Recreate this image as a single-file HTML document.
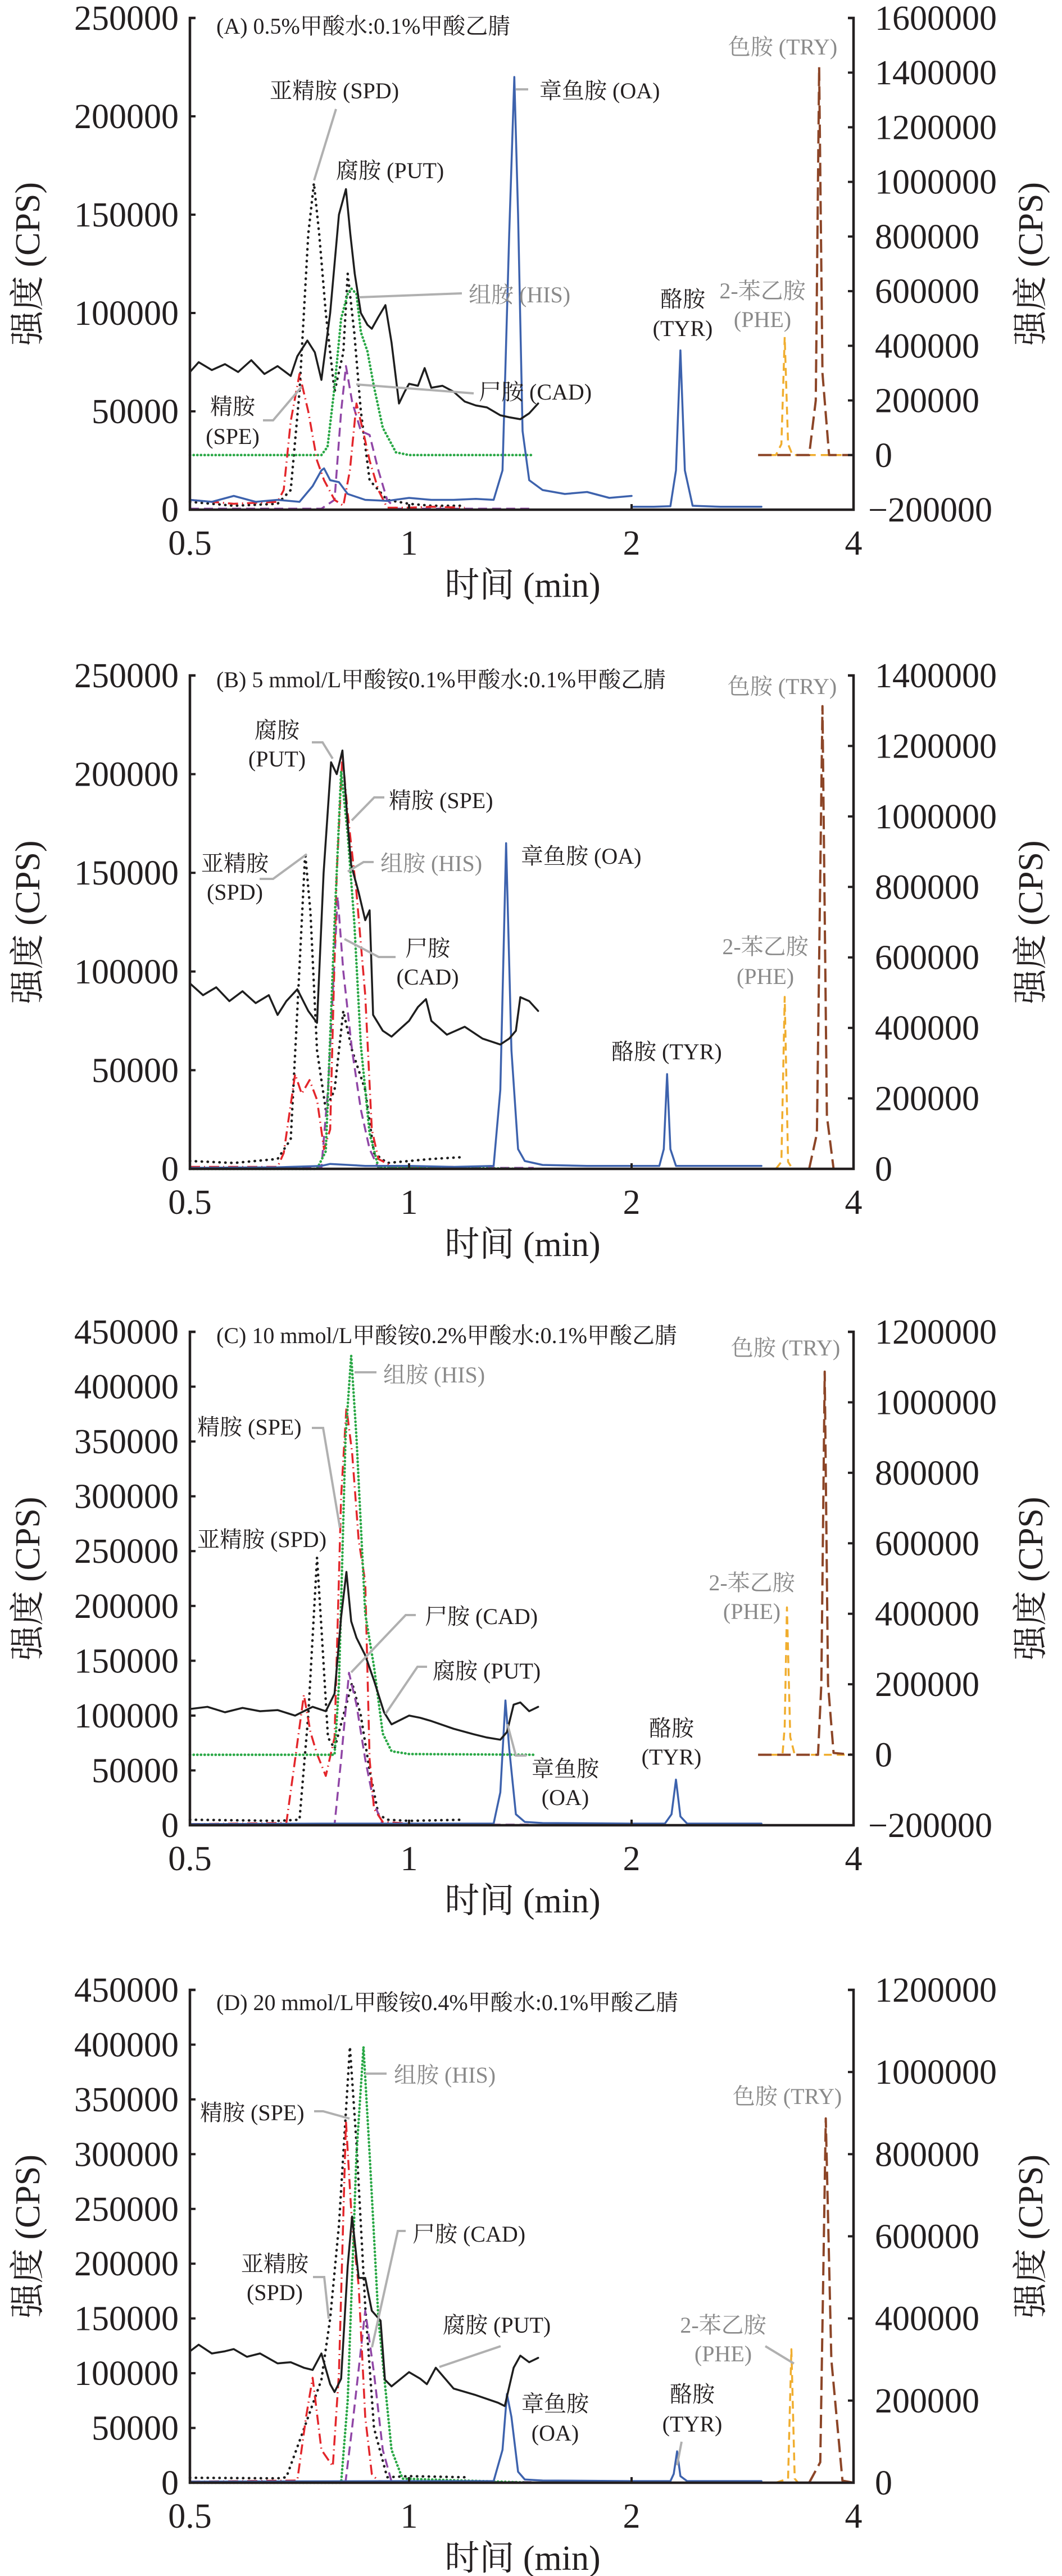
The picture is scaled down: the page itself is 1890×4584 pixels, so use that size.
<!DOCTYPE html>
<html><head><meta charset="utf-8"><style>
html,body{margin:0;padding:0;background:#fff;}
svg{display:block;}
.tk{font-family:"Liberation Serif","Noto Serif CJK SC",serif;font-size:62px;fill:#231f20;}
.ax{font-family:"Liberation Serif","Noto Serif CJK SC",serif;font-size:62px;fill:#231f20;}
.lb{font-family:"Liberation Serif","Noto Serif CJK SC",serif;font-size:40px;fill:#231f20;}
.lg{font-family:"Liberation Serif","Noto Serif CJK SC",serif;font-size:40px;fill:#8a8a8a;}
.ld{stroke:#b0b0b0;stroke-width:4;fill:none;}
</style></head><body>
<svg id="chart" width="1890" height="4584" viewBox="0 0 1890 4584" xmlns="http://www.w3.org/2000/svg">
<g id="labels">
<!-- Panel A -->
<text class="lb" x="385" y="60">(A) 0.5%甲酸水:0.1%甲酸乙腈</text>
<text class="lb" x="480" y="175">亚精胺 (SPD)</text>
<polyline class="ld" points="598,194 559,321"/>
<text class="lb" x="598" y="317">腐胺 (PUT)</text>
<text class="lb" x="960" y="175">章鱼胺 (OA)</text>
<polyline class="ld" points="918,159 940,159"/>
<text class="lg" x="834" y="538">组胺 (HIS)</text>
<polyline class="ld" points="639,529 822,522"/>
<text class="lb" x="852" y="711">尸胺 (CAD)</text>
<polyline class="ld" points="634,684 843,700"/>
<text class="lb" x="414" y="737" text-anchor="middle">精胺</text>
<text class="lb" x="414" y="790" text-anchor="middle">(SPE)</text>
<polyline class="ld" points="468,748 486,748 537,688"/>
<text class="lb" x="1215" y="546" text-anchor="middle">酪胺</text>
<text class="lb" x="1215" y="598" text-anchor="middle">(TYR)</text>
<text class="lg" x="1357" y="531" text-anchor="middle">2-苯乙胺</text>
<text class="lg" x="1357" y="582" text-anchor="middle">(PHE)</text>
<text class="lg" x="1393" y="97" text-anchor="middle">色胺 (TRY)</text>
<!-- Panel B -->
<text class="lb" x="385" y="1223">(B) 5 mmol/L甲酸铵0.1%甲酸水:0.1%甲酸乙腈</text>
<text class="lg" x="1392" y="1235" text-anchor="middle">色胺 (TRY)</text>
<text class="lb" x="493" y="1313" text-anchor="middle">腐胺</text>
<text class="lb" x="493" y="1364" text-anchor="middle">(PUT)</text>
<polyline class="ld" points="555,1321 574,1321 592,1350"/>
<text class="lb" x="692" y="1438">精胺 (SPE)</text>
<polyline class="ld" points="684,1419 666,1419 626,1460"/>
<text class="lb" x="418" y="1550" text-anchor="middle">亚精胺</text>
<text class="lb" x="418" y="1601" text-anchor="middle">(SPD)</text>
<polyline class="ld" points="462,1564 486,1564 546,1520"/>
<text class="lg" x="677" y="1550">组胺 (HIS)</text>
<polyline class="ld" points="665,1534 647,1534 619,1551"/>
<text class="lb" x="927" y="1537">章鱼胺 (OA)</text>
<text class="lb" x="761" y="1701" text-anchor="middle">尸胺</text>
<text class="lb" x="761" y="1752" text-anchor="middle">(CAD)</text>
<polyline class="ld" points="704,1703 674,1703 613,1671"/>
<text class="lg" x="1362" y="1698" text-anchor="middle">2-苯乙胺</text>
<text class="lg" x="1362" y="1751" text-anchor="middle">(PHE)</text>
<text class="lb" x="1088" y="1885">酪胺 (TYR)</text>
<!-- Panel C -->
<text class="lb" x="385" y="2390">(C) 10 mmol/L甲酸铵0.2%甲酸水:0.1%甲酸乙腈</text>
<text class="lg" x="1398" y="2412" text-anchor="middle">色胺 (TRY)</text>
<text class="lg" x="682" y="2460">组胺 (HIS)</text>
<polyline class="ld" points="631,2442 670,2442"/>
<text class="lb" x="351" y="2553">精胺 (SPE)</text>
<polyline class="ld" points="555,2541 575,2541 605,2719"/>
<text class="lb" x="351" y="2753">亚精胺 (SPD)</text>
<text class="lb" x="756" y="2890">尸胺 (CAD)</text>
<polyline class="ld" points="740,2874 722,2874 625,2976"/>
<text class="lb" x="770" y="2987">腐胺 (PUT)</text>
<polyline class="ld" points="760,2966 743,2966 686,3050"/>
<text class="lb" x="1006" y="3161" text-anchor="middle">章鱼胺</text>
<text class="lb" x="1006" y="3212" text-anchor="middle">(OA)</text>
<polyline class="ld" points="903,3068 918,3124 937,3124"/>
<text class="lb" x="1195" y="3089" text-anchor="middle">酪胺</text>
<text class="lb" x="1195" y="3140" text-anchor="middle">(TYR)</text>
<text class="lg" x="1338" y="2830" text-anchor="middle">2-苯乙胺</text>
<text class="lg" x="1338" y="2881" text-anchor="middle">(PHE)</text>
<!-- Panel D -->
<text class="lb" x="385" y="3577">(D) 20 mmol/L甲酸铵0.4%甲酸水:0.1%甲酸乙腈</text>
<text class="lg" x="701" y="3706">组胺 (HIS)</text>
<polyline class="ld" points="650,3690 688,3690"/>
<text class="lg" x="1401" y="3744" text-anchor="middle">色胺 (TRY)</text>
<text class="lb" x="356" y="3773">精胺 (SPE)</text>
<polyline class="ld" points="559,3757 575,3757 622,3770"/>
<text class="lb" x="734" y="3989">尸胺 (CAD)</text>
<polyline class="ld" points="722,3970 708,3970 662,4177"/>
<text class="lb" x="489" y="4042" text-anchor="middle">亚精胺</text>
<text class="lb" x="489" y="4093" text-anchor="middle">(SPD)</text>
<polyline class="ld" points="557,4052 577,4052 585,4126"/>
<text class="lb" x="788" y="4151">腐胺 (PUT)</text>
<polyline class="ld" points="891,4175 782,4212"/>
<text class="lb" x="988" y="4291" text-anchor="middle">章鱼胺</text>
<text class="lb" x="988" y="4343" text-anchor="middle">(OA)</text>
<text class="lb" x="1232" y="4274" text-anchor="middle">酪胺</text>
<text class="lb" x="1232" y="4327" text-anchor="middle">(TYR)</text>
<polyline class="ld" points="1213,4345 1205,4387"/>
<text class="lg" x="1287" y="4151" text-anchor="middle">2-苯乙胺</text>
<text class="lg" x="1287" y="4202" text-anchor="middle">(PHE)</text>
<polyline class="ld" points="1362,4175 1413,4206"/>
</g>
</svg>
<script>
// ---------- Panel A data ----------
const A_PUT_t=[0.5,0.52,0.55,0.58,0.61,0.64,0.67,0.7,0.73,0.745,0.768,0.785,0.80,0.82,0.84,0.856,0.866,0.876,0.89,0.905,0.915,0.93,0.946,0.96,0.977,0.99,1.0,1.04,1.07,1.1,1.15,1.2,1.25,1.3,1.35,1.41,1.45,1.5,1.54,1.58];
const A_PUT_v=[70000,75000,71000,74000,70000,76000,69000,73000,68000,78000,86000,80000,66000,100000,150000,163000,140000,120000,100000,94000,92000,98000,104000,85000,54000,60000,64000,63000,72000,62000,63000,60000,55000,53000,52000,48000,47000,46000,49000,54000];
const A_SPD_t=[0.5,0.6,0.7,0.73,0.75,0.77,0.783,0.795,0.81,0.83,0.85,0.86,0.875,0.89,0.91,0.95,1.0,1.1,1.25];
const A_SPD_v=[4000,2000,3000,10000,60000,140000,166000,140000,100000,60000,80000,120000,90000,50000,15000,5000,3000,2000,2000];
const A_HIS_t=[0.5,0.8,0.814,0.83,0.845,0.86,0.868,0.88,0.89,0.905,0.92,0.94,0.97,1.0,1.56];
const A_HIS_v=[0,0,30000,250000,500000,590000,610000,590000,450000,380000,250000,100000,10000,0,0];
const A_SPE_t=[0.5,0.6,0.7,0.714,0.73,0.75,0.77,0.79,0.806,0.83,0.85,0.865,0.88,0.895,0.91,0.93,0.95,1.0,1.1,1.25];
const A_SPE_v=[5000,3000,4000,10000,45000,69000,50000,25000,15000,5000,2000,20000,54000,40000,25000,10000,1000,1000,1500,1000];
const A_CAD_t=[0.5,0.8,0.83,0.845,0.856,0.87,0.89,0.91,0.93,0.95,0.97,1.56];
const A_CAD_v=[500,500,5000,50000,73000,55000,40000,38000,20000,5000,500,500];
const A_OA_t=[0.5,0.55,0.6,0.65,0.7,0.75,0.78,0.8,0.806,0.82,0.84,0.86,0.9,0.95,1.0,1.1,1.2,1.3,1.38,1.42,1.45,1.473,1.49,1.51,1.54,1.6,1.7,1.8,1.9,2.0];
const A_OA_v=[5000,4000,7000,4000,5000,4000,12000,20000,21000,15000,14000,8000,5000,4500,6000,5000,5000,5500,5000,20000,140000,220000,150000,40000,15000,10000,8000,9000,6000,7000];
const A_TYR_t=[2.0,2.2,2.35,2.4,2.44,2.48,2.55,2.8,3.17];
const A_TYR_v=[1500,1500,1800,20000,81000,20000,2000,1500,1500];
const A_PHE_t=[3.14,3.3,3.35,3.38,3.41,3.45,4.0];
const A_PHE_v=[0,0,40000,432000,40000,0,0];
const A_TRY_t=[3.14,3.6,3.66,3.69,3.72,3.78,4.0];
const A_TRY_v=[0,0,200000,1420000,300000,0,0];
// ---------- Panel B data ----------
const B_PUT_t=[0.5,0.53,0.56,0.59,0.62,0.65,0.68,0.70,0.72,0.745,0.77,0.79,0.805,0.822,0.835,0.848,0.86,0.868,0.885,0.9,0.91,0.918,0.94,0.96,1.0,1.04,1.076,1.1,1.17,1.25,1.33,1.41,1.45,1.48,1.50,1.54,1.58];
const B_PUT_v=[94000,88000,92000,85000,90000,84000,88000,78000,85000,91000,80000,74000,150000,206000,200000,212000,175000,154000,140000,126000,131000,78000,70000,67000,75000,82000,86000,75000,68000,72000,66000,63000,66000,70000,87000,85000,80000];
const B_SPD_t=[0.5,0.6,0.7,0.73,0.745,0.763,0.775,0.79,0.81,0.83,0.85,0.87,0.9,0.92,0.95,1.0,1.1,1.25];
const B_SPD_v=[4000,3000,5000,15000,80000,160000,130000,60000,30000,40000,80000,60000,40000,8000,3000,4000,5000,6000];
const B_SPE_t=[0.5,0.7,0.714,0.74,0.755,0.773,0.79,0.806,0.82,0.835,0.848,0.86,0.88,0.9,0.915,0.93,0.96,1.0,1.2];
const B_SPE_v=[1000,1000,8000,48000,38000,45000,35000,10000,20000,150000,210000,180000,140000,88000,20000,5000,1500,1000,1000];
const B_HIS_t=[0.5,0.79,0.81,0.83,0.845,0.86,0.875,0.89,0.91,0.93,1.56];
const B_HIS_v=[0,0,50000,700000,1128000,950000,700000,350000,100000,5000,0];
const B_CAD_t=[0.5,0.8,0.815,0.837,0.85,0.87,0.89,0.91,0.93,1.56];
const B_CAD_v=[500,500,40000,138000,100000,60000,30000,10000,500,500];
const B_OA_t=[0.5,0.7,0.8,0.82,0.9,1.0,1.2,1.38,1.41,1.436,1.46,1.49,1.52,1.6,1.8,2.0];
const B_OA_v=[500,800,1500,2500,1500,1500,1000,1500,40000,165000,60000,10000,4000,2000,1500,1500];
const B_TYR_t=[2.0,2.25,2.29,2.32,2.35,2.4,2.6,3.17];
const B_TYR_v=[1500,1500,10000,48000,10000,1500,1500,1500];
const B_PHE_t=[3.3,3.35,3.38,3.41,3.45];
const B_PHE_v=[0,20000,488000,20000,0];
const B_TRY_t=[3.6,3.67,3.72,3.76,3.82,4.0];
const B_TRY_v=[0,100000,1313000,150000,0,0];
// ---------- Panel C data ----------
const C_PUT_t=[0.5,0.54,0.58,0.62,0.66,0.7,0.74,0.78,0.81,0.83,0.845,0.857,0.868,0.88,0.9,0.92,0.943,0.96,1.0,1.05,1.1,1.2,1.29,1.35,1.41,1.44,1.47,1.5,1.54,1.58];
const C_PUT_v=[106000,108000,103000,107000,104000,105000,100000,108000,104000,120000,190000,231000,186000,171000,155000,132000,103000,92000,100000,98000,95000,88000,83000,80000,78000,85000,110000,112000,104000,108000];
const C_SPD_t=[0.5,0.7,0.75,0.77,0.79,0.80,0.815,0.83,0.85,0.87,0.89,0.91,0.93,0.95,1.0,1.25];
const C_SPD_v=[5000,4000,5000,100000,244000,180000,80000,70000,100000,130000,100000,50000,10000,5000,4000,5000];
const C_SPE_t=[0.5,0.72,0.74,0.76,0.775,0.79,0.81,0.83,0.845,0.857,0.87,0.885,0.9,0.91,0.92,0.94,1.0,1.2];
const C_SPE_v=[1000,2000,60000,119000,85000,65000,45000,80000,300000,381000,340000,260000,222000,60000,15000,3000,1500,1000];
const C_HIS_t=[0.5,0.83,0.84,0.855,0.868,0.88,0.9,0.92,0.94,0.96,1.0,1.56];
const C_HIS_v=[0,0,200000,900000,1132000,900000,400000,250000,60000,10000,2000,0];
const C_CAD_t=[0.5,0.83,0.845,0.863,0.88,0.9,0.92,0.94,1.56];
const C_CAD_v=[500,500,60000,139000,110000,60000,20000,500,500];
const C_OA_t=[0.5,0.8,1.0,1.38,1.41,1.433,1.45,1.48,1.52,1.6,2.0];
const C_OA_v=[1000,1500,1500,1500,30000,113800,70000,10000,3000,2000,1500];
const C_TYR_t=[2.0,2.3,2.36,2.4,2.44,2.5,3.17];
const C_TYR_v=[1500,1500,10000,41600,8000,1500,1500];
const C_PHE_t=[3.14,3.36,3.38,3.40,3.43,3.47,4.0];
const C_PHE_v=[0,0,80000,418000,50000,0,0];
const C_TRY_t=[3.14,3.68,3.71,3.74,3.77,3.82,4.0];
const C_TRY_v=[0,0,200000,1087000,200000,5000,0];
// ---------- Panel D data ----------
const D_PUT_t=[0.5,0.52,0.55,0.58,0.6,0.63,0.66,0.7,0.73,0.76,0.78,0.8,0.82,0.83,0.845,0.86,0.87,0.885,0.9,0.915,0.935,0.945,0.96,1.0,1.05,1.08,1.12,1.2,1.3,1.4,1.43,1.47,1.5,1.54,1.58];
const D_PUT_v=[120000,126000,118000,120000,122000,115000,118000,109000,110000,105000,103000,118000,90000,82800,95000,198000,243000,187000,187000,157000,148000,94000,88000,101000,95000,90000,105000,86000,80000,73000,70000,105000,116000,110000,114000];
const D_SPD_t=[0.5,0.7,0.72,0.76,0.8,0.82,0.84,0.865,0.88,0.9,0.92,0.95,1.0,1.25];
const D_SPD_v=[4500,4000,5000,49000,94000,150000,235000,398000,310000,161000,50000,5000,6000,5000];
const D_SPE_t=[0.5,0.745,0.765,0.78,0.8,0.826,0.84,0.856,0.87,0.885,0.9,0.915,0.93,1.0,1.2];
const D_SPE_v=[1000,2000,60000,95800,30000,15000,100000,330000,235000,180000,60000,8000,1500,1000,1000];
const D_HIS_t=[0.5,0.845,0.86,0.88,0.896,0.91,0.93,0.96,0.985,1.56];
const D_HIS_v=[0,0,200000,800000,1061000,800000,400000,80000,10000,0];
const D_CAD_t=[0.5,0.855,0.87,0.9,0.92,0.94,0.96,1.56];
const D_CAD_v=[500,500,50000,157000,100000,30000,1000,500];
const D_OA_t=[0.5,1.0,1.38,1.42,1.44,1.46,1.49,1.52,1.6,2.0];
const D_OA_v=[1000,1500,1500,30000,81000,60000,10000,3000,2000,1500];
const D_TYR_t=[2.0,2.35,2.38,2.41,2.44,2.5,3.17];
const D_TYR_v=[1500,1500,8000,28700,6000,1500,1500];
const D_PHE_t=[3.3,3.41,3.44,3.47,3.5];
const D_PHE_v=[0,10000,325000,10000,0];
const D_TRY_t=[3.6,3.7,3.75,3.8,3.9,4.0];
const D_TRY_v=[0,50000,887000,300000,5000,0];
// ---------- Axis tick values ----------
const X_TICKS=[0.5,1,2,4];
const X_TICK_LABELS=["0.5","1","2","4"];
const A_LEFT_TICKS=[0,50000,100000,150000,200000,250000];
const A_RIGHT_TICKS=[-200000,0,200000,400000,600000,800000,1000000,1200000,1400000,1600000];
const B_LEFT_TICKS=[0,50000,100000,150000,200000,250000];
const B_RIGHT_TICKS=[0,200000,400000,600000,800000,1000000,1200000,1400000];
const C_LEFT_TICKS=[0,50000,100000,150000,200000,250000,300000,350000,400000,450000];
const C_RIGHT_TICKS=[-200000,0,200000,400000,600000,800000,1000000,1200000];
const D_LEFT_TICKS=[0,50000,100000,150000,200000,250000,300000,350000,400000,450000];
const D_RIGHT_TICKS=[0,200000,400000,600000,800000,1000000,1200000];

const NS="http://www.w3.org/2000/svg";
const svg=document.getElementById('chart');
const X0=338,X1=728,X2=1124,X3=1519;
function xScale(t){
  if(t<=1) return X0+(t-0.5)/0.5*(X1-X0);
  if(t<=2) return X1+(t-1)*(X2-X1);
  return X2+(t-2)/2*(X3-X2);
}
const STY={
  PUT:{c:'#1e1e1e',d:'',w:3.5,cap:'round'},
  SPD:{c:'#1e1e1e',d:'0.5 10',w:4.5,cap:'round'},
  HIS:{c:'#2aa846',d:'0.5 6',w:4.5,cap:'round'},
  SPE:{c:'#e3262b',d:'18 7 2 7',w:3.5,cap:'butt'},
  CAD:{c:'#9046a6',d:'16 9',w:3.5,cap:'butt'},
  OA:{c:'#3d62ad',d:'',w:3.5,cap:'round'},
  TYR:{c:'#3d62ad',d:'',w:3.5,cap:'round'},
  PHE:{c:'#f0ad2e',d:'14 9',w:3.5,cap:'butt'},
  TRY:{c:'#8c4527',d:'24 10',w:4,cap:'butt'}
};
function mk(tag,attrs,parent){const e=document.createElementNS(NS,tag);for(const k in attrs)e.setAttribute(k,attrs[k]);(parent||svg).appendChild(e);return e;}
function fmt(v){return v<0?'\u2212'+String(-v):String(v);}

const panels=[
 {id:'a',top:32,bot:907,lmax:250000,rmin:-200000,rmax:1600000,lt:A_LEFT_TICKS,rt:A_RIGHT_TICKS,
  series:[['SPD',A_SPD_t,A_SPD_v,'L'],['HIS',A_HIS_t,A_HIS_v,'R'],['CAD',A_CAD_t,A_CAD_v,'L'],['SPE',A_SPE_t,A_SPE_v,'L'],['OA',A_OA_t,A_OA_v,'L'],['TYR',A_TYR_t,A_TYR_v,'L'],['PUT',A_PUT_t,A_PUT_v,'L'],['PHE',A_PHE_t,A_PHE_v,'R'],['TRY',A_TRY_t,A_TRY_v,'R']]},
 {id:'b',top:1202,bot:2080,lmax:250000,rmin:0,rmax:1400000,lt:B_LEFT_TICKS,rt:B_RIGHT_TICKS,
  series:[['SPD',B_SPD_t,B_SPD_v,'L'],['CAD',B_CAD_t,B_CAD_v,'L'],['SPE',B_SPE_t,B_SPE_v,'L'],['HIS',B_HIS_t,B_HIS_v,'R'],['OA',B_OA_t,B_OA_v,'L'],['TYR',B_TYR_t,B_TYR_v,'L'],['PUT',B_PUT_t,B_PUT_v,'L'],['PHE',B_PHE_t,B_PHE_v,'R'],['TRY',B_TRY_t,B_TRY_v,'R']]},
 {id:'c',top:2370,bot:3248,lmax:450000,rmin:-200000,rmax:1200000,lt:C_LEFT_TICKS,rt:C_RIGHT_TICKS,
  series:[['SPD',C_SPD_t,C_SPD_v,'L'],['CAD',C_CAD_t,C_CAD_v,'L'],['SPE',C_SPE_t,C_SPE_v,'L'],['HIS',C_HIS_t,C_HIS_v,'R'],['OA',C_OA_t,C_OA_v,'L'],['TYR',C_TYR_t,C_TYR_v,'L'],['PUT',C_PUT_t,C_PUT_v,'L'],['PHE',C_PHE_t,C_PHE_v,'R'],['TRY',C_TRY_t,C_TRY_v,'R']]},
 {id:'d',top:3541,bot:4418,lmax:450000,rmin:0,rmax:1200000,lt:D_LEFT_TICKS,rt:D_RIGHT_TICKS,
  series:[['SPD',D_SPD_t,D_SPD_v,'L'],['CAD',D_CAD_t,D_CAD_v,'L'],['SPE',D_SPE_t,D_SPE_v,'L'],['HIS',D_HIS_t,D_HIS_v,'R'],['OA',D_OA_t,D_OA_v,'L'],['TYR',D_TYR_t,D_TYR_v,'L'],['PUT',D_PUT_t,D_PUT_v,'L'],['PHE',D_PHE_t,D_PHE_v,'R'],['TRY',D_TRY_t,D_TRY_v,'R']]}
];
const labelsG=document.getElementById('labels');
panels.forEach(p=>{
  const g=mk('g',{});
  
  
  svg.insertBefore(g,labelsG);
  const yL=v=>p.bot-(v/p.lmax)*(p.bot-p.top);
  const yR=v=>p.bot-((v-p.rmin)/(p.rmax-p.rmin))*(p.bot-p.top);
  // series
  p.series.forEach(s=>{
    const st=STY[s[0]];const ys=s[3]==='L'?yL:yR;
    let d='';
    s[1].forEach((t,i)=>{d+=(i?'L':'M')+xScale(t).toFixed(1)+','+ys(s[2][i]).toFixed(1);});
    const path=mk('path',{d:d,fill:'none',stroke:st.c,'stroke-width':st.w,'stroke-linejoin':'round','stroke-linecap':st.cap,'stroke-dasharray':st.d},g);
    
    
  });
  // axes frame
  const ax=mk('path',{d:`M${X0+10},${p.top}H${X0}V${p.bot}H${X3}V${p.top}H${X3-10}`,fill:'none',stroke:'#231f20','stroke-width':4.5,'stroke-linejoin':'miter'},g);
  
  
  // left ticks
  p.lt.forEach(v=>{
    const y=yL(v);
    const tk=mk('line',{x1:X0,x2:X0+10,y1:y,y2:y,stroke:'#231f20','stroke-width':4},g);
    
    
    const tx=mk('text',{x:318,y:y+21,'text-anchor':'end',class:'tk'},g);
    tx.textContent=fmt(v);
    
    
  });
  p.rt.forEach(v=>{
    const y=yR(v);
    const tk=mk('line',{x1:X3-10,x2:X3,y1:y,y2:y,stroke:'#231f20','stroke-width':4},g);
    
    
    const tx=mk('text',{x:v<0?1545:1557,y:y+21,'text-anchor':'start',class:'tk'},g);
    tx.textContent=fmt(v);
    
    
  });
  X_TICKS.forEach((t,i)=>{
    const x=xScale(t);
    const tk=mk('line',{x1:x,x2:x,y1:p.bot,y2:p.bot-10,stroke:'#231f20','stroke-width':4},g);
    
    
    const tx=mk('text',{x:x,y:p.bot+80,'text-anchor':'middle',class:'tk'},g);
    tx.textContent=X_TICK_LABELS[i];
    
    
  });
  const xt=mk('text',{x:930,y:p.bot+155,'text-anchor':'middle',class:'ax'},g);
  xt.textContent='时间 (min)';
  
  
  const cy=(p.top+p.bot)/2;
  const yt=mk('text',{x:0,y:0,'text-anchor':'middle',class:'ax',transform:`translate(70,${cy}) rotate(-90)`},g);
  yt.textContent='强度 (CPS)';
  
  
  const yt2=mk('text',{x:0,y:0,'text-anchor':'middle',class:'ax',transform:`translate(1855,${cy}) rotate(-90)`},g);
  yt2.textContent='强度 (CPS)';
  
  
});
</script>
</body></html>
